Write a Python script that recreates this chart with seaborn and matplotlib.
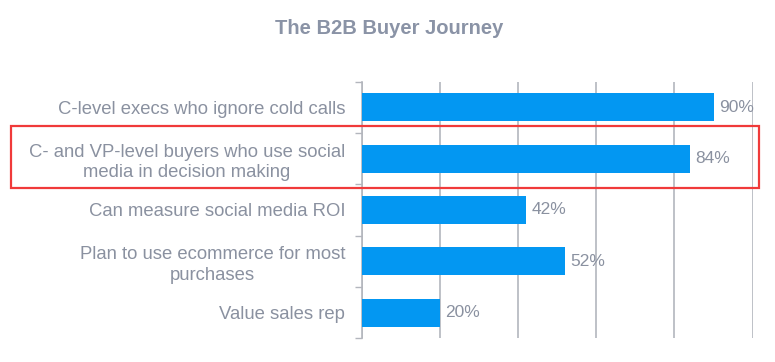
import matplotlib
matplotlib.use("Agg")
import matplotlib.pyplot as plt
from matplotlib.patches import Rectangle
import seaborn as sns
import numpy as np

# chart data
categories = [
    "C-level execs who ignore cold calls",
    "C- and VP-level buyers who use social\nmedia in decision making",
    "Can measure social media ROI",
    "Plan to use ecommerce for most\npurchases",
    "Value sales rep",
]
values = [90, 84, 42, 52, 20]
grid_ticks = [0, 20, 40, 60, 80, 100]
title = "The B2B Buyer Journey"

BAR = "#0397F2"
TEXT = "#8A91A0"
GRID = "#B3B6BD"

sns.set_style("white")
plt.rcParams["font.family"] = ["Liberation Sans", "DejaVu Sans"]

fig = plt.figure(figsize=(7.75, 3.62), dpi=100)
ax = fig.add_axes([0.4667, 0.0655, 0.5045, 0.7088])

sns.barplot(x=values, y=categories, orient="h", color=BAR, width=0.55,
            saturation=1, linewidth=0, ax=ax, zorder=3)

ax.set_xlim(0, 100)
ax.set_xticks(grid_ticks)
ax.tick_params(axis="x", length=0, labelbottom=False)
ax.grid(axis="x", color=GRID, linewidth=1.2, zorder=0)
ax.set_xlabel("")
ax.set_ylabel("")

# category labels, centred multi-line text
ax.tick_params(axis="y", which="major", length=0, pad=12, labelsize=13.3, labelcolor=TEXT)
for lbl in ax.get_yticklabels():
    lbl.set_multialignment("center")
    lbl.set_linespacing(1.25)
# small boundary ticks between categories
ax.set_yticks(np.arange(-0.5, len(categories), 1.0), minor=True)
ax.tick_params(axis="y", which="minor", length=5, width=1, color=GRID, left=True)

for side in ["top", "right", "bottom"]:
    ax.spines[side].set_visible(False)
ax.spines["left"].set_color(GRID)
ax.spines["left"].set_linewidth(1.2)

ax.bar_label(ax.containers[0], labels=[f"{v}%" for v in values],
             padding=4, color=TEXT, fontsize=12.5)

fig.text(0.502, 0.922, title, ha="center", va="center", fontsize=14.5,
         fontweight="bold", color="#8A93A6")

# highlight box around the second row
fig.patches.append(Rectangle((11 / 775, 1 - 187.7 / 362), (759.3 - 11) / 775, 62 / 362,
                             transform=fig.transFigure, fill=False,
                             edgecolor="#F03A3A", linewidth=1.6, zorder=10))

fig.savefig("out.png", dpi=100)
